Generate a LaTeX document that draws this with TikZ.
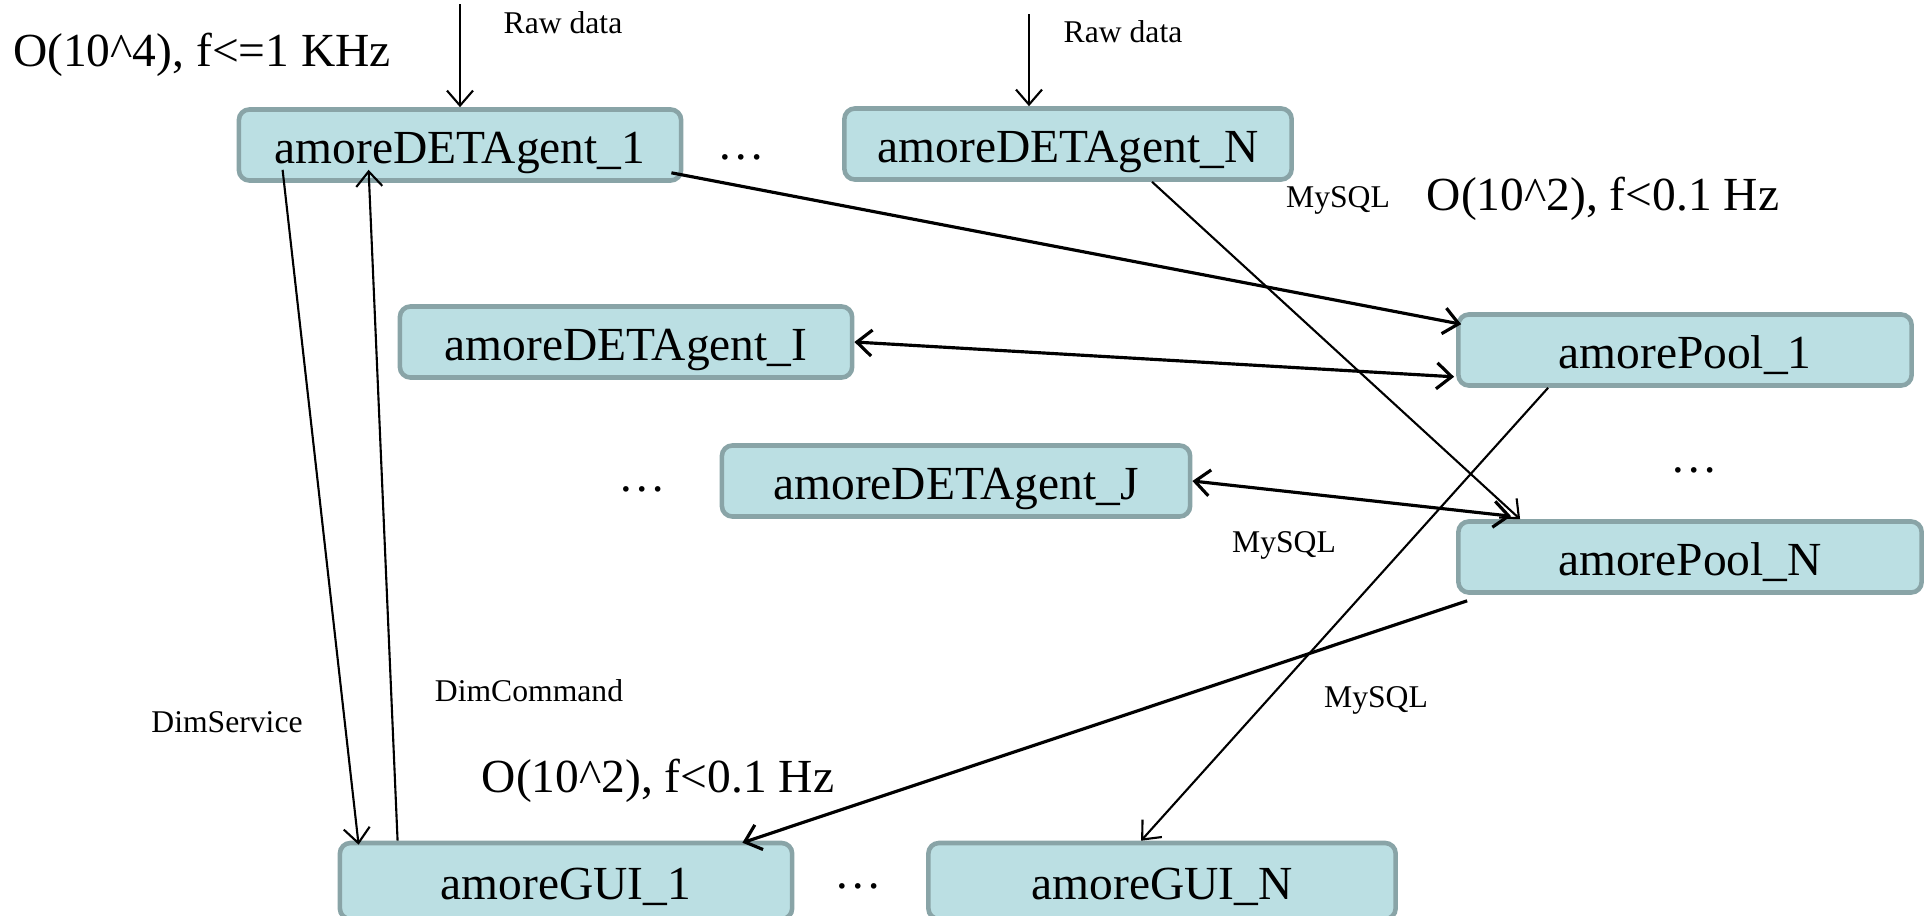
\documentclass[tikz,border=0pt]{standalone}
\usepackage{fontspec}
\setmainfont{Liberation Serif}
\usetikzlibrary{arrows.meta,calc}
\definecolor{boxfill}{HTML}{BBDFE3}
\definecolor{boxline}{HTML}{89A4A7}
\tikzset{
  agent/.style={draw=boxline, fill=boxfill, line width=1.3pt, rounded corners=3pt,
    inner sep=0pt, minimum height=0.71cm, text height=0.42cm, text depth=0.05cm,
    font=\fontsize{13.5}{16}\selectfont},
  small/.style={inner sep=0pt, font=\fontsize{9}{11}\selectfont},
  big/.style={inner sep=0pt, font=\fontsize{13.5}{16}\selectfont},
  link/.style={->, line width=0.6pt},
  heavy/.style={line width=0.9pt},
}
\begin{document}
\begin{tikzpicture}[x=0.01cm, y=-0.01cm, >={Straight Barb[length=1.5mm,width=2.6mm]}]
\useasboundingbox (0,0) rectangle (1925,915);
\clip (0,0) rectangle (1925,915);

% boxes
\node[agent, minimum width=4.42cm] (a1) at (460,145) {amoreDETAgent\_1};
\node[agent, minimum width=4.47cm] (aN) at (1068,144) {amoreDETAgent\_N};
\node[agent, minimum width=4.52cm] (aI) at (626,342) {amoreDETAgent\_I};
\node[agent, minimum width=4.68cm] (aJ) at (956,481) {amoreDETAgent\_J};
\node[agent, minimum width=4.53cm] (p1) at (1685,350) {amorePool\_1};
\node[agent, minimum width=4.63cm] (pN) at (1690,557) {amorePool\_N};
\node[agent, minimum width=4.52cm, minimum height=0.76cm] (g1) at (566,881) {amoreGUI\_1};
\node[agent, minimum width=4.67cm, minimum height=0.76cm] (gN) at (1162,881) {amoreGUI\_N};

% texts
\node[big] (rate1) at (202,55) {O(10\textasciicircum4), f<=1 KHz};
\node[big] (rate2) at (1603,199) {O(10\textasciicircum2), f<0.1 Hz};
\node[big] (rate3) at (658,781) {O(10\textasciicircum2), f<0.1 Hz};
\node[small] (raw1) at (563,23) {Raw data};
\node[small] (raw2) at (1123,32) {Raw data};
\node[small] (sql1) at (1338,200) {MySQL};
\node[small] (sql2) at (1284,545) {MySQL};
\node[small] (sql3) at (1376,700) {MySQL};
\node[small] (dimc) at (529,691) {DimCommand};
\node[small] (dims) at (227,722) {DimService};
\node[big] (dots1) at (741,157) {\ldots};
\node[big] (dots2) at (642,489) {\ldots};
\node[big] (dots3) at (1694,470) {\ldots};
\node[big] (dots4) at (858,886) {\ldots};

% connectors
\coordinate (in1) at (460,4);
\coordinate (in2) at (1029,14);
\draw[link] (in1) -- (a1.north);
\draw[link] (in2) -- ($(aN.north)+(-39,0)$);
\draw[link,heavy] ($(a1.south east)+(-12,-10)$) -- ($(p1.north west)+(5,12)$);
\draw[link,heavy,<->] (aI.east) -- ($(p1.south west)+(-2,-11)$);
\draw[link] ($(aN.south)+(84,0)$) -- ($(pN.north west)+(64,0)$);
\draw[link,heavy,<->] (aJ.east) -- ($(pN.north west)+(55,-3)$);
\draw[link] ($(p1.south west)+(92,0)$) -- ($(gN.north west)+(215,0)$);
\draw[link,heavy] ($(pN.south west)+(11,6)$) -- ($(g1.north east)+(-52,2)$);
\draw[link] ($(a1.south west)+(46,-13)$) -- ($(g1.north west)+(21,4)$);
\draw[link] ($(g1.north west)+(60,0)$) -- ($(a1.south west)+(132,-13)$);
\end{tikzpicture}
\end{document}
